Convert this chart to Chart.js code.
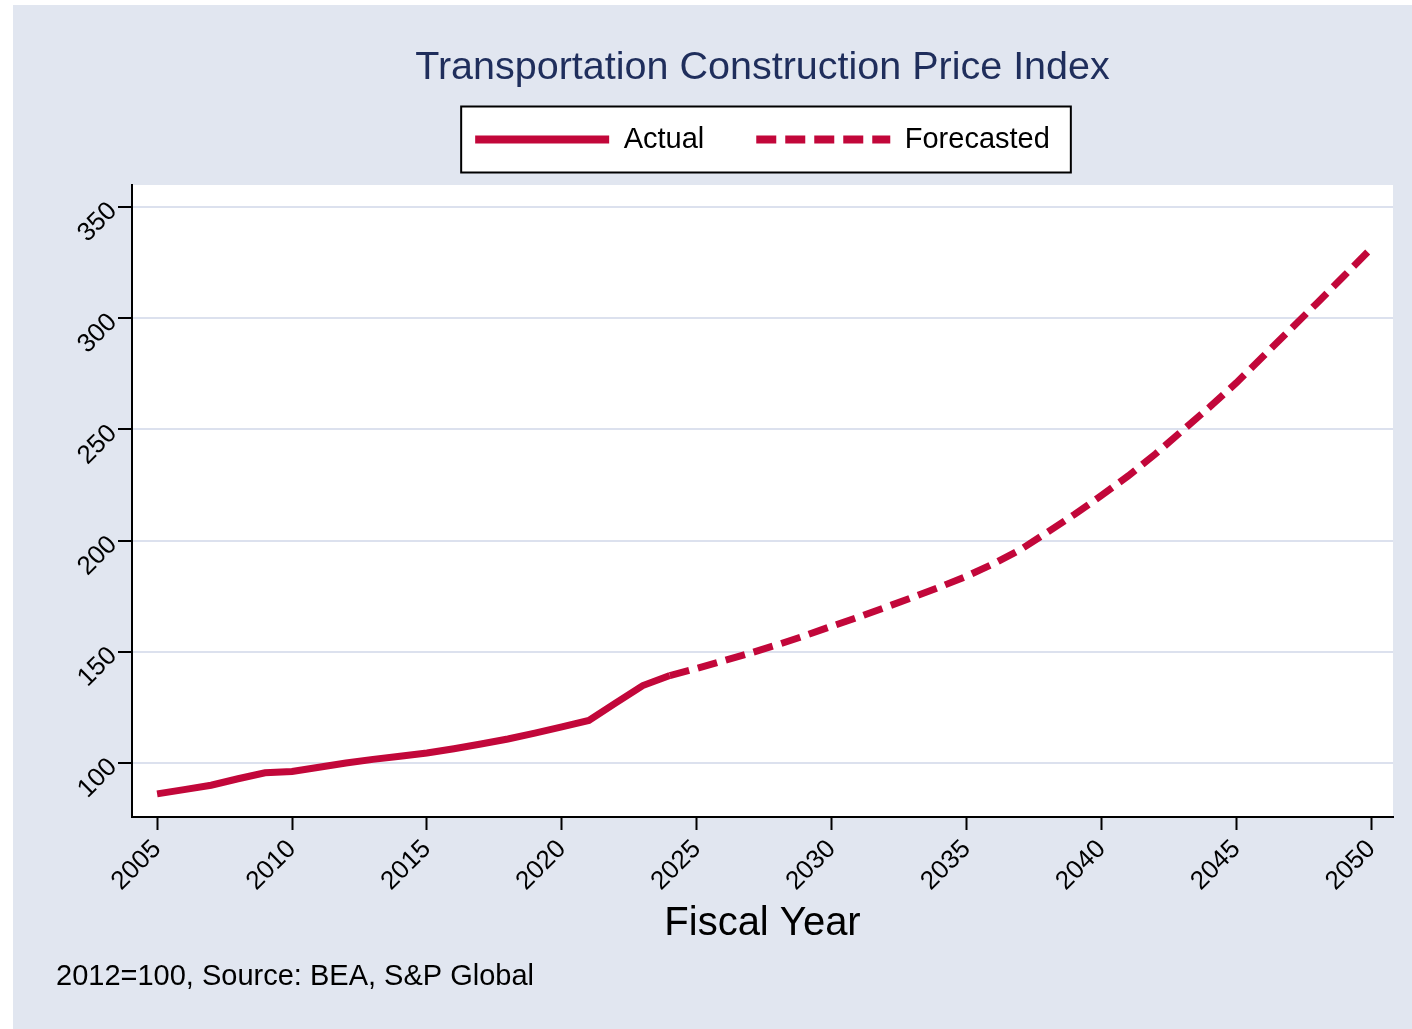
<!DOCTYPE html>
<html>
<head>
<meta charset="utf-8">
<script src="https://cdn.jsdelivr.net/npm/chart.js@4/dist/chart.umd.min.js"></script>
<style>
  html, body { margin: 0; padding: 0; background: #ffffff; }
  canvas { display: block; }
</style>
</head>
<body>
<canvas id="c" width="1412" height="1029"></canvas>
<script>
// ---- data ----
const actualYears = [2005, 2006, 2007, 2008, 2009, 2010, 2011, 2012, 2013, 2014, 2015, 2016, 2017, 2018, 2019, 2020, 2021, 2022, 2023, 2024];
const actualValues = [86.1, 88.0, 90.0, 92.9, 95.6, 96.2, 98.1, 100.0, 101.6, 103.0, 104.5, 106.4, 108.5, 110.8, 113.4, 116.2, 119.1, 127.0, 134.8, 139.3];
const forecastYears = [2024, 2025, 2026, 2027, 2028, 2029, 2030, 2031, 2032, 2033, 2034, 2035, 2036, 2037, 2038, 2039, 2040, 2041, 2042, 2043, 2044, 2045, 2046, 2047, 2048, 2049, 2050];
const forecastValues = [139.3, 142.5, 146.0, 149.5, 153.2, 157.2, 161.5, 165.6, 170.0, 174.5, 179.1, 184.0, 189.6, 196.0, 203.8, 211.8, 220.3, 229.2, 239.0, 249.5, 260.0, 271.0, 283.0, 295.0, 307.0, 319.2, 331.5];
const seriesNames = ['Actual', 'Forecasted'];
const xTickStep = 5;
const yTickStep = 50;
const titleText = 'Transportation Construction Price Index';
const xAxisTitle = 'Fiscal Year';
const footnoteText = '2012=100, Source: BEA, S&P Global';

const RED = '#C2073A';
const BG = '#E1E6F0';
const FONT = '"Liberation Sans", Arial, Helvetica, sans-serif';

const toPoints = (xs, ys) => xs.map((x, i) => ({ x: x, y: ys[i] }));

const backgroundPlugin = {
  id: 'bgPlugin',
  beforeDraw(chart) {
    const ctx = chart.ctx;
    const { left, top, right, bottom } = chart.chartArea;
    ctx.save();
    ctx.fillStyle = '#ffffff';
    ctx.fillRect(0, 0, chart.width, chart.height);
    ctx.fillStyle = BG;
    ctx.fillRect(13, 5, chart.width - 13, chart.height - 5);
    ctx.fillStyle = '#ffffff';
    ctx.fillRect(left, top, right - left, bottom - top);
    // legend frame
    const lg = chart.legend;
    if (lg && lg.legendHitBoxes && lg.legendHitBoxes.length) {
      const hb = lg.legendHitBoxes;
      const first = hb[0], last = hb[hb.length - 1];
      const cy = first.top + first.height / 2;
      const bx = first.left - 14;
      const bw = (last.left + last.width + 21) - bx;
      ctx.fillStyle = '#ffffff';
      ctx.fillRect(bx, cy - 33, bw, 66);
      ctx.strokeStyle = '#000000';
      ctx.lineWidth = 2;
      ctx.strokeRect(bx, cy - 33, bw, 66);
    }
    ctx.restore();
  }
};

new Chart(document.getElementById('c'), {
  type: 'line',
  data: {
    datasets: [
      {
        label: seriesNames[0],
        data: toPoints(actualYears, actualValues),
        borderColor: RED,
        backgroundColor: RED,
        borderWidth: 7,
        pointRadius: 0,
        tension: 0,
        borderCapStyle: 'butt',
        borderJoinStyle: 'miter',
        fill: false
      },
      {
        label: seriesNames[1],
        data: toPoints(forecastYears, forecastValues),
        borderColor: RED,
        backgroundColor: RED,
        borderWidth: 7,
        borderDash: [20, 9],
        pointRadius: 0,
        tension: 0,
        borderCapStyle: 'butt',
        borderJoinStyle: 'miter',
        fill: false
      }
    ]
  },
  options: {
    responsive: false,
    animation: false,
    devicePixelRatio: 1,
    layout: { padding: { left: 56, right: 19, top: 0, bottom: 34.6 } },
    plugins: {
      title: {
        display: true,
        text: titleText,
        color: '#1F2E5C',
        fullSize: false,
        font: { family: FONT, size: 39.5, weight: 'normal' },
        padding: { top: 44.3, bottom: -18.7 }
      },
      subtitle: {
        display: true,
        text: footnoteText,
        position: 'bottom',
        align: 'start',
        color: '#000000',
        fullSize: true,
        font: { family: FONT, size: 29, weight: 'normal' },
        padding: { top: 0, bottom: 0 }
      },
      legend: {
        display: true,
        position: 'top',
        fullSize: false,
        labels: {
          usePointStyle: true,
          pointStyle: 'line',
          pointStyleWidth: 134,
          boxWidth: 134,
          padding: 52,
          color: '#000000',
          font: { family: FONT, size: 29 },
          generateLabels(chart) {
            const items = Chart.defaults.plugins.legend.labels.generateLabels(chart);
            items.forEach((it) => {
              const ds = chart.data.datasets[it.datasetIndex];
              it.lineDash = ds.borderDash || [];
              it.lineWidth = 8;
              it.strokeStyle = ds.borderColor;
              it.lineCap = 'butt';
            });
            return items;
          }
        }
      },
      tooltip: { enabled: false }
    },
    scales: {
      x: {
        type: 'linear',
        position: 'bottom',
        min: 2004.07,
        max: 2050.8,
        afterFit(s) { s.height = 142.6; },
        grid: { display: true, drawOnChartArea: false, drawTicks: true, tickLength: 13, tickWidth: 2, tickColor: '#000000' },
        border: { display: true, color: '#000000', width: 2 },
        ticks: {
          stepSize: xTickStep,
          includeBounds: false,
          minRotation: 45,
          maxRotation: 45,
          padding: 4,
          color: '#000000',
          font: { family: FONT, size: 26 },
          callback: (v) => String(v)
        },
        title: {
          display: true,
          text: xAxisTitle,
          color: '#000000',
          font: { family: FONT, size: 40 },
          padding: { top: 0, bottom: 11.6 }
        }
      },
      xTopSpacer: {
        type: 'linear',
        position: 'top',
        display: true,
        min: 0,
        max: 1,
        afterFit(s) { s.height = 21; },
        grid: { display: false },
        border: { display: false },
        ticks: { display: false },
        title: { display: false }
      },
      y: {
        type: 'linear',
        position: 'left',
        min: 75.7,
        max: 359.9,
        afterFit(s) { s.width = 76; },
        grid: { display: true, drawOnChartArea: true, color: '#DCE1EE', lineWidth: 2, drawTicks: true, tickLength: 14, tickWidth: 2, tickColor: '#000000' },
        border: { display: true, color: '#000000', width: 2 },
        ticks: {
          stepSize: yTickStep,
          includeBounds: false,
          minRotation: 45,
          maxRotation: 45,
          padding: 5,
          color: '#000000',
          font: { family: FONT, size: 26 }
        }
      }
    }
  },
  plugins: [backgroundPlugin]
});
</script>
</body>
</html>
